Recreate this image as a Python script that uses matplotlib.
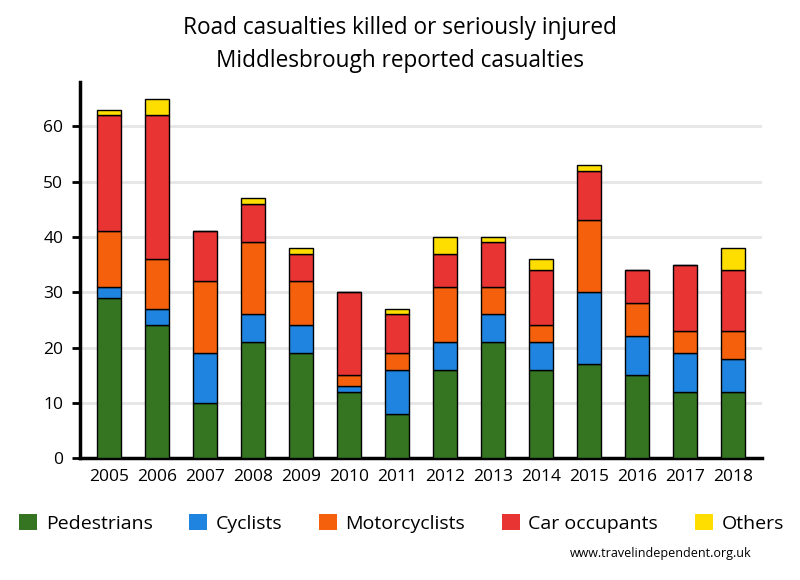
import numpy as np
import matplotlib.pyplot as plt
from matplotlib.patches import Patch

plt.rcParams['font.family'] = ['Open Sans', 'DejaVu Sans']

# data
years = ['2005', '2006', '2007', '2008', '2009', '2010', '2011',
         '2012', '2013', '2014', '2015', '2016', '2017', '2018']
pedestrians = [29, 24, 10, 21, 19, 12, 8, 16, 21, 16, 17, 15, 12, 12]
cyclists = [2, 3, 9, 5, 5, 1, 8, 5, 5, 5, 13, 7, 7, 6]
motorcyclists = [10, 9, 13, 13, 8, 2, 3, 10, 5, 3, 13, 6, 4, 5]
car_occupants = [21, 26, 9, 7, 5, 15, 7, 6, 8, 10, 9, 6, 12, 11]
others = [1, 3, 0, 1, 1, 0, 1, 3, 1, 2, 1, 0, 0, 4]

series = [
    ('Pedestrians', pedestrians, '#357522'),
    ('Cyclists', cyclists, '#1e84e0'),
    ('Motorcyclists', motorcyclists, '#f5600c'),
    ('Car occupants', car_occupants, '#e83433'),
    ('Others', others, '#fede00'),
]

fig = plt.figure(figsize=(8, 5.8), dpi=100)
ax = fig.add_axes([0.1, 0.21, 0.8525, 0.6486])

x = np.arange(len(years))
bottom = np.zeros(len(years))
for name, vals, col in series:
    vals = np.array(vals)
    ax.bar(x, vals, 0.5, bottom=bottom, color=col, edgecolor='black',
           linewidth=1, zorder=3)
    bottom += vals

ax.set_xlim(-0.6, 13.6)
ax.set_ylim(0, 68)
ax.set_yticks([0, 10, 20, 30, 40, 50, 60])
ax.set_xticks(x)
ax.set_xticklabels(years)
ax.yaxis.grid(True, color='#e6e6e6', linewidth=2, zorder=0)
ax.tick_params(axis='x', length=0, labelsize=12.5, pad=8)
ax.tick_params(axis='y', length=6, width=2, labelsize=12.5, pad=6)
for s in ['top', 'right']:
    ax.spines[s].set_visible(False)
for s in ['left', 'bottom']:
    ax.spines[s].set_linewidth(2.5)

fig.text(0.5, 0.952, 'Road casualties killed or seriously injured',
         ha='center', va='center', fontsize=16.3)
fig.text(0.5, 0.895, 'Middlesbrough reported casualties',
         ha='center', va='center', fontsize=16.3)

handles = [Patch(facecolor=c, label=n) for n, _, c in series]
fig.legend(handles=handles, loc='center', bbox_to_anchor=(0.502, 0.098),
           ncol=5, frameon=False, fontsize=14, handlelength=0.9,
           handleheight=0.9, handletextpad=0.45, columnspacing=1.9)

fig.text(0.94, 0.045, 'www.travelindependent.org.uk', ha='right',
         va='center', fontsize=9)

fig.savefig('out.png', dpi=100)
